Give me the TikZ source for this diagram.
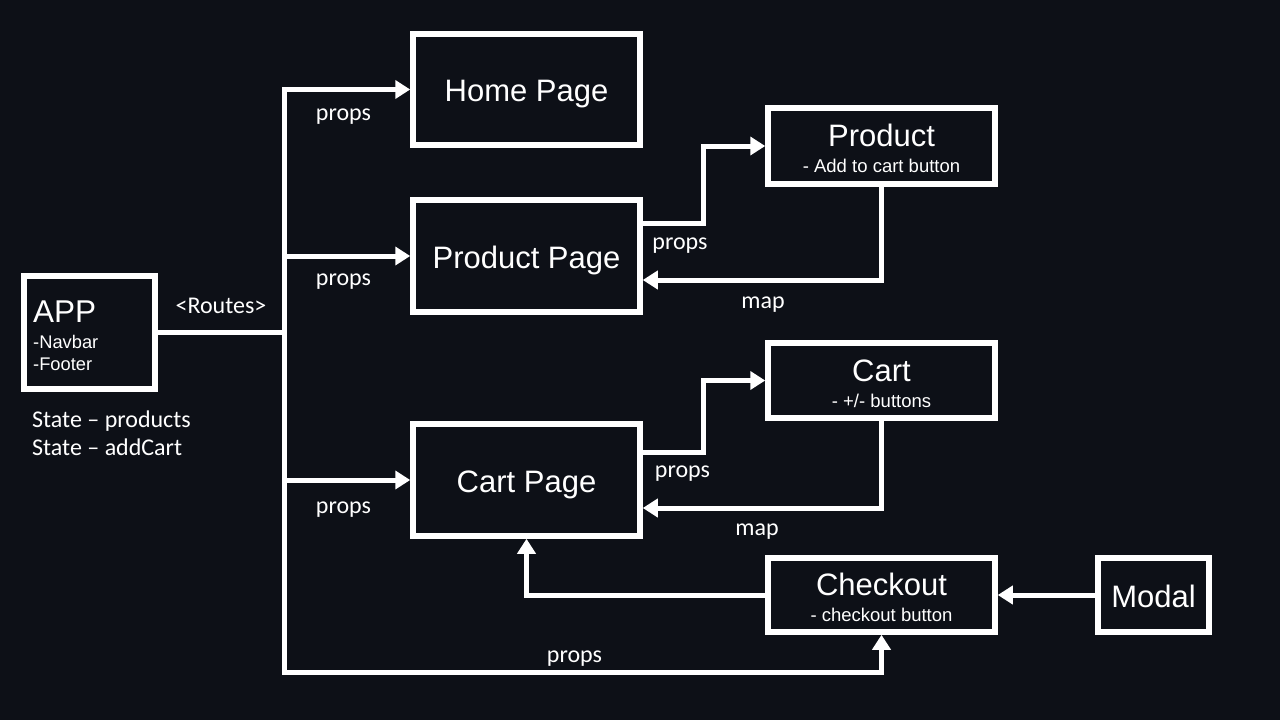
\documentclass[tikz,border=0pt]{standalone}
\usepackage{fontspec}
\setmainfont{Liberation Sans}
\newfontfamily\calibri{Carlito}
\usetikzlibrary{arrows.meta}
\definecolor{bgdark}{RGB}{13,16,23}
\newcommand{\subtxt}[1]{{\fontsize{18.5}{26}\selectfont #1}}
\newcommand{\toptxt}[1]{\rule{0pt}{28pt}#1}

\begin{document}
\begin{tikzpicture}[x=1pt,y=-1pt,
    page/.style={draw=white,line width=5.5pt,fill=bgdark,text=white,inner sep=0pt,
      minimum width=227pt,align=center,font=\fontsize{31}{26}\selectfont},
    single/.style={text height=24pt,text depth=0pt},
    link/.style={draw=white,line width=5pt,line cap=rect},
    arr/.style={link,-{Triangle[length=15pt,width=18pt]}},
    lbl/.style={text=white,inner sep=0pt,font=\calibri\fontsize{24}{28}\selectfont}]
    \useasboundingbox (0,0) rectangle (1280,720);
    \fill[bgdark] (0,0) rectangle (1280,720);
    % App
    \node[page,minimum width=131pt,minimum height=113pt] (app) at (89.3,332.5) {};
    \node[text=white,inner sep=0pt,anchor=base west,font=\fontsize{31.5}{30}\selectfont] (apptitle) at (33,322) {APP};
    \node[text=white,inner sep=0pt,anchor=base west,font=\fontsize{18.3}{22}\selectfont] (appnav) at (33,348) {-Navbar};
    \node[text=white,inner sep=0pt,anchor=base west,font=\fontsize{18.3}{22}\selectfont] (appfoot) at (33,370) {-Footer};
    \node[lbl,anchor=base west] (stateprod) at (32,427) {State – products};
    \node[lbl,anchor=base west] (statecart) at (32,455) {State – addCart};
    % Pages
    \node[page,single,minimum height=111pt] (home) at (526.5,89.5) {Home Page};
    \node[page,single,minimum height=112pt] (prodpage) at (526.5,256) {Product Page};
    \node[page,single,minimum height=112pt] (cartpage) at (526.5,480) {Cart Page};
    % Components
    \node[page,minimum height=76pt] (product) at (881.5,146) {\toptxt{Product}\\\subtxt{- Add to cart button}};
    \node[page,minimum height=75pt] (cart) at (881.5,380.5) {\toptxt{Cart}\\\subtxt{- +/- buttons}};
    \node[page,minimum height=74pt] (checkout) at (881.5,595) {\toptxt{Checkout}\\\subtxt{- checkout button}};
    \node[page,single,minimum width=111pt,minimum height=74pt] (modal) at (1153.5,595) {Modal};
    % Routes
    \coordinate (tt) at (284.5,89.5);
    \coordinate (tb) at (284.5,672);
    \draw[link] (app.east) -- (app.east -| tt);
    \draw[link] (tt) -- (tb);
    \draw[arr] (tt) -- (home.west);
    \draw[arr] (tt |- prodpage.west) -- (prodpage.west);
    \draw[arr] (tt |- cartpage.west) -- (cartpage.west);
    \draw[arr] (tb) -| (checkout.south);
    % Props and maps
    \draw[arr] ([yshift=33pt]prodpage.east) -- ++(61,0) |- (product.west);
    \draw[arr] (product.south) |- ([yshift=-24pt]prodpage.east);
    \draw[arr] ([yshift=28pt]cartpage.east) -- ++(61,0) |- (cart.west);
    \draw[arr] (cart.south) |- ([yshift=-28pt]cartpage.east);
    \draw[arr] (checkout.west) -| (cartpage.south);
    \draw[arr] (modal.west) -- (checkout.east);
    % Labels
    \node[lbl,anchor=base] (routes) at (221,313) {<Routes>};
    \node[lbl,anchor=base] (propshome) at (343.5,120) {props};
    \node[lbl,anchor=base] (propsprod) at (343.5,285) {props};
    \node[lbl,anchor=base] (propscart) at (343.5,513) {props};
    \node[lbl,anchor=base] (propscheck) at (574.5,662) {props};
    \node[lbl,anchor=base] (propsproduct) at (680,249) {props};
    \node[lbl,anchor=base] (propscartc) at (682.5,477) {props};
    \node[lbl,anchor=base] (mapproduct) at (763,308) {map};
    \node[lbl,anchor=base] (mapcart) at (757,535) {map};
\end{tikzpicture}
\end{document}
